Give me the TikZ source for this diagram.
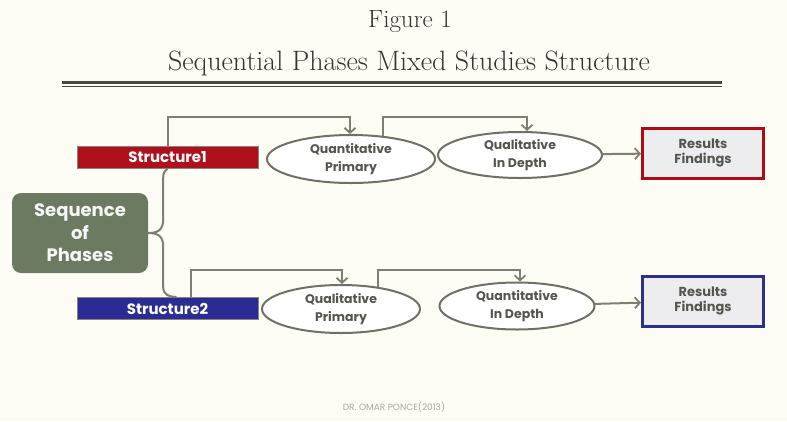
\documentclass[tikz,border=0pt]{standalone}
\usepackage{fontspec}
\newfontfamily\gothic{Poppins}
\usetikzlibrary{shapes.geometric,arrows.meta,positioning}

\definecolor{paper}{HTML}{FDFDF5}
\definecolor{linkgray}{HTML}{7B8070}
\definecolor{ellgray}{HTML}{6E7266}
\definecolor{boxedge}{HTML}{85857E}
\definecolor{txtgray}{HTML}{555550}
\definecolor{structred}{HTML}{B0101C}
\definecolor{structblue}{HTML}{2B2B96}
\definecolor{seqgreen}{HTML}{6B7A60}
\definecolor{resred}{HTML}{B00A14}
\definecolor{resblue}{HTML}{2E2E8C}
\definecolor{resfill}{HTML}{EDEDF0}
\definecolor{rulegray}{HTML}{4A4540}

\begin{document}
\begin{tikzpicture}[x=1pt,y=-1pt,
			link/.style={draw=linkgray,line width=2pt,-{Straight Barb[length=5pt,width=11pt,line width=1.8pt]}},
			brace line/.style={draw=linkgray,line width=2pt},
			struct node/.style={draw=boxedge,line width=1pt,minimum width=181pt,minimum height=22pt,inner sep=0pt,text=white,font=\gothic\bfseries\fontsize{15}{16}\selectfont},
			phase node/.style={ellipse,draw=ellgray,line width=2pt,fill=white,minimum height=47pt,inner sep=0pt,align=center,text=txtgray,font=\gothic\bfseries\fontsize{12.5}{18}\selectfont},
			result node/.style={line width=3pt,fill=resfill,minimum width=121pt,minimum height=50pt,inner sep=0pt,align=center,text=txtgray,font=\gothic\bfseries\fontsize{13}{15.5}\selectfont},
			seq node/.style={rounded corners=9pt,fill=seqgreen,minimum width=136pt,minimum height=80pt,align=center,text=white!94!seqgreen,font=\gothic\bfseries\fontsize{18}{22.5}\selectfont}
			]
			
			% page
			\fill[paper] (0,0) rectangle (787,421);
			\useasboundingbox (0,0) rectangle (787,421);
			
			% title
			\node[text=black!80,font=\fontsize{25}{28}\selectfont] (fig) at (410,22) {Figure 1};
			\node[text=black!80,font=\fontsize{28}{32}\selectfont] (title) at (409,63) {Sequential Phases Mixed Studies Structure};
			\draw[rulegray,line width=3pt] (62,82) -- (722,82);
			\draw[rulegray,line width=1pt] (62,86.5) -- (722,86.5);
			
			% left part
			\node[seq node] (seq) at (80,233) {Sequence\\of\\Phases};
			\node[struct node,fill=structred] (s1) at (167.5,157) {Structure1};
			\node[struct node,fill=structblue] (s2) at (167.5,308.5) {Structure2};
			
			% row 1
			\node[phase node,minimum width=168pt,minimum height=48pt] (qa1) at (351,159) {Quantitative\\Primary};
			\node[phase node,minimum width=164pt,minimum height=46pt] (qd1) at (520,155) {Qualitative\\In Depth};
			\node[result node,draw=resred] (r1) at (703,153) {Results\\Findings};
			
			% row 2
			\node[phase node,minimum width=158pt,minimum height=48pt] (ql2) at (341,309) {Qualitative\\Primary};
			\node[phase node,minimum width=155pt] (qn2) at (517,306) {Quantitative\\In Depth};
			\node[result node,draw=resblue] (r2) at (703,301) {Results\\Findings};
			
			\coordinate (top1) at (0,117);
			\coordinate (top2) at (0,270);
			
			% brace
			\draw[brace line] (seq.east) .. controls +(11,0) and +(0,10) .. ++(15,-14) -- ++(0,-40) .. controls +(0,-8) and +(-3,4) .. (s1.south);
			\draw[brace line] (seq.east) .. controls +(11,0) and +(0,-10) .. ++(15,14) -- ++(0,40) .. controls +(0,8) and +(-7,0) .. ([xshift=9pt]s2.north);
			
			% connectors
			\draw[link] (s1.north) |- ([xshift=-1pt]qa1.north |- top1) -- ([xshift=-1pt]qa1.north);
			\draw[link] (qa1.36) |- ([xshift=7pt]qd1.north |- top1) -- ([xshift=7pt]qd1.north);
			\draw[link] (qd1) -- (r1);
			
			\draw[link] ([xshift=23pt]s2.north) |- ([xshift=1pt]ql2.north |- top2) -- ([xshift=1pt]ql2.north);
			\draw[link] (ql2.31) |- ([xshift=3pt]qn2.north |- top2) -- ([xshift=3pt]qn2.north);
			\draw[link] (qn2) -- (r2);
			
			% footer
			\node[text=gray!70,font=\gothic\fontsize{9}{10}\selectfont] (credit) at (394,407) {DR. OMAR PONCE(2013)};
			
		\end{tikzpicture}
\end{document}
